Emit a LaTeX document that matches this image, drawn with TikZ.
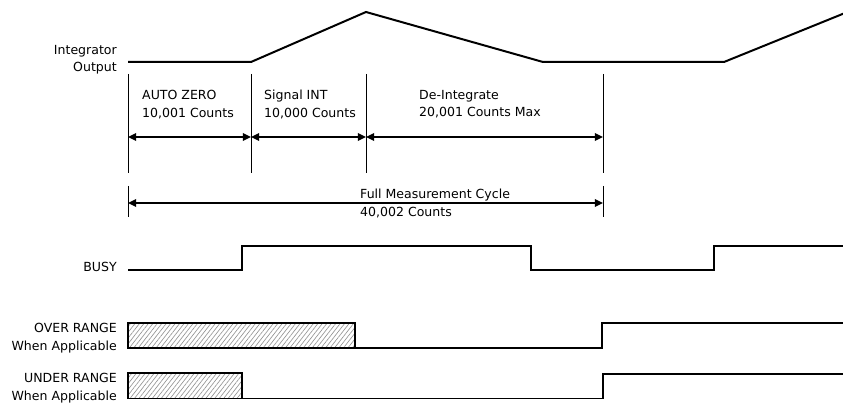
\documentclass[tikz,border=0pt]{standalone}
\usepackage{fontspec}
\setmainfont{DejaVu Sans}
\usepackage{tikz}
\usetikzlibrary{arrows.meta,positioning,calc,patterns.meta}
\tikzset{
  lbl/.style={font=\fontsize{10.7}{15}\selectfont,align=right,anchor=north east,inner sep=0pt},
  txt/.style={font=\fontsize{10.7}{15}\selectfont,align=left,anchor=north west,inner sep=0pt},
  sig/.style={line width=1.7pt,line join=miter},
  tickline/.style={line width=0.8pt},
  dimarr/.style={{Triangle[length=7pt,width=6.5pt]}-{Triangle[length=7pt,width=6.5pt]},line width=1.3pt},
  hatchbox/.style={pattern={Lines[angle=52,distance=3pt,line width=0.55pt]},pattern color=gray!85,
                   draw=black,line width=0.9pt},
}

\begin{document}
\begin{tikzpicture}[x=0.03cm,y=-0.03cm]
  \useasboundingbox (0,0) rectangle (843,405);
  % phase marks
  \foreach \n/\t in {a/128,b/251,c/366,d/603}{
    \coordinate (top-\n) at (\t,74);
    \coordinate (bot-\n) at (\t,173);
    \coordinate (mid-\n) at (\t,137);
    \draw[tickline] (top-\n) -- (bot-\n);
  }
  \draw[dimarr] (mid-a) -- (mid-b);
  \draw[dimarr] (mid-b) -- (mid-c);
  \draw[dimarr] (mid-c) -- (mid-d);
  \node[txt] (az) at (142,90) {AUTO ZERO\\10,001 Counts};
  \node[txt] (si) at (264,90) {Signal INT\\10,000 Counts};
  \node[txt] (di) at (419,90) {De-Integrate\\20,001 Counts Max};
  % full cycle
  \foreach \n/\t in {a/128,d/603}{
    \coordinate (ftop-\n) at (\t,186);
    \coordinate (fbot-\n) at (\t,217);
    \coordinate (fmid-\n) at (\t,203);
    \draw[tickline] (ftop-\n) -- (fbot-\n);
  }
  \draw[dimarr] (fmid-a) -- (fmid-d);
  \node[txt] (fc) at (360,189) {Full Measurement Cycle\\40,002 Counts};
  % signal names
  \node[lbl] (io) at (117,45) {Integrator\\Output};
  \node[lbl] (by) at (117,262) {BUSY};
  \node[lbl] (ov) at (117,323) {OVER RANGE\\When Applicable};
  \node[lbl] (un) at (117,373) {UNDER RANGE\\When Applicable};
  % waveforms
  \draw[sig] (128,62) -- (251,62) -- (366,12) -- (543,62) -- (724,62) -- (845,13);
  \draw[sig] (128,270) -| (242,246) -| (531,270) -| (714,246) -- (843,246);
  \draw[hatchbox] (128,323) rectangle (355,348);
  \draw[sig] (128,348) -| (602,323) -- (843,323);
  \draw[hatchbox] (128,373) rectangle (242,398.5);
  \draw[sig] (128,398.5) -| (603,374) -- (843,374);
\end{tikzpicture}
\end{document}
